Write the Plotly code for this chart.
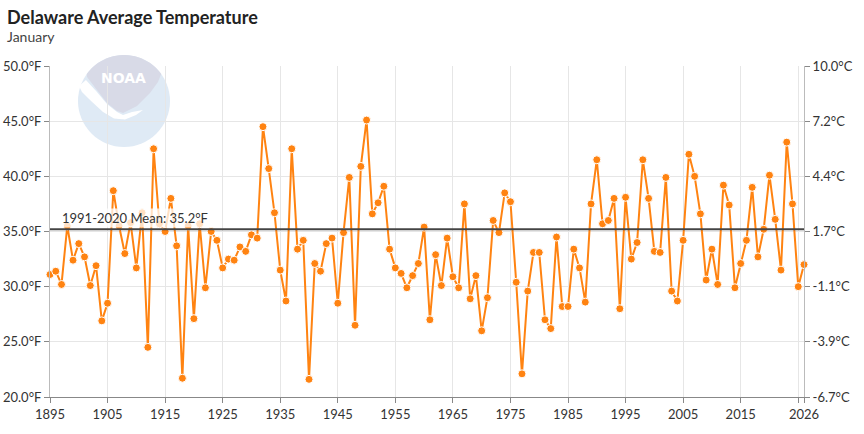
import math
import plotly.graph_objects as go

# January average temperature, Delaware (deg F), 1895-2026
years = list(range(1895, 2027))
jan_temp_f = [
    31.1, 31.4, 30.2, 35.5, 32.4, 33.9, 32.7, 30.1, 31.9, 26.9,
    28.5, 38.7, 35.5, 33.0, 35.8, 31.7, 36.7, 24.5, 42.5, 35.7,
    35.0, 38.0, 33.7, 21.7, 35.5, 27.1, 35.7, 29.9, 35.0, 34.2,
    31.7, 32.5, 32.4, 33.6, 33.2, 34.7, 34.4, 44.5, 40.7, 36.7,
    31.5, 28.7, 42.5, 33.4, 34.2, 21.6, 32.1, 31.4, 33.9, 34.4,
    28.5, 34.9, 39.9, 26.5, 40.9, 45.1, 36.6, 37.6, 39.1, 33.4,
    31.7, 31.2, 29.9, 31.0, 32.1, 35.4, 27.0, 32.9, 30.1, 34.4,
    30.9, 29.9, 37.5, 28.9, 31.0, 26.0, 29.0, 36.0, 34.9, 38.5,
    37.7, 30.4, 22.1, 29.6, 33.1, 33.1, 27.0, 26.2, 34.5, 28.2,
    28.2, 33.4, 31.7, 28.6, 37.5, 41.5, 35.7, 36.0, 38.0, 28.0,
    38.1, 32.5, 34.0, 41.5, 38.0, 33.2, 33.1, 39.9, 29.6, 28.7,
    34.2, 42.0, 40.0, 36.6, 30.6, 33.4, 30.2, 39.2, 37.4, 29.9,
    32.1, 34.2, 39.0, 32.7, 35.2, 40.1, 36.1, 31.5, 43.1, 37.5,
    30.0, 32.0,
]
mean_1991_2020 = 35.2

f_ticks = [20, 25, 30, 35, 40, 45, 50]
x_ticks = [1895, 1905, 1915, 1925, 1935, 1945, 1955, 1965, 1975, 1985,
           1995, 2005, 2015, 2025, 2026]
x_labels = [str(y) for y in x_ticks[:-2]] + ["", "2026"]

def to_c(f):
    return (f - 32) / 1.8

FONT = "Lato, 'Open Sans', sans-serif"
ORANGE = "#ff8311"

fig = go.Figure()

fig.add_trace(go.Scatter(
    x=years, y=jan_temp_f, mode="lines+markers",
    line=dict(color=ORANGE, width=2),
    marker=dict(color=ORANGE, size=8, line=dict(color="white", width=1)),
    cliponaxis=False, showlegend=False,
))
# invisible copy on the Celsius axis so the right axis is drawn
fig.add_trace(go.Scatter(
    x=years, y=[to_c(v) for v in jan_temp_f], yaxis="y2",
    mode="lines", line=dict(width=0), opacity=0,
    hoverinfo="skip", showlegend=False,
))

# 1991-2020 mean line
fig.add_hline(y=mean_1991_2020, line=dict(color="#444", width=2))

# faded NOAA logo (pixel coords -> paper)
L, R, T, B = 50, 804, 66, 397
def px(x):
    return (x - L) / (R - L)
def py(y):
    return (B - y) / (B - T)
def path(pts):
    return "M " + " L ".join(f"{px(a):.4f},{py(b):.4f}" for a, b in pts) + " Z"

cx, cy, r = 124, 101, 46
fig.add_shape(type="circle", xref="paper", yref="paper",
              x0=px(cx - r), x1=px(cx + r), y0=py(cy + r), y1=py(cy - r),
              fillcolor="#dfeaf5", line_width=0, layer="below")
cap = [(cx + r * math.cos(math.radians(a)), cy - r * math.sin(math.radians(a)))
       for a in range(36, 148, 4)]
cap += [(87, 77), (97, 90), (107, 103), (117, 111), (123, 113), (137, 106),
        (150, 93), (158, 82)]
fig.add_shape(type="path", xref="paper", yref="paper", path=path(cap),
              fillcolor="#d8dae7", line_width=0, layer="below")
bird = [(79, 86), (86, 80), (97, 92), (107, 104), (117, 112), (123, 115),
        (132, 112), (143, 110), (136, 115), (125, 119.5), (114, 118.5),
        (103, 112), (91, 101), (82, 92)]
fig.add_shape(type="path", xref="paper", yref="paper", path=path(bird),
              fillcolor="white", line_width=0, layer="below")
fig.add_annotation(x=px(123.5), y=py(78.5), xref="paper", yref="paper", text="<b>NOAA</b>",
                   showarrow=False, xanchor="center", yanchor="middle",
                   font=dict(family="DejaVu Sans", size=14, color="white"))

fig.add_annotation(
    x=px(60), xref="paper", y=mean_1991_2020, yref="y",
    text=f"1991-2020 Mean: {mean_1991_2020}°F", showarrow=False,
    xanchor="left", yanchor="bottom", yshift=1,
    bgcolor="rgba(255,255,255,0.75)", font=dict(family=FONT, size=13, color="#333"),
)

# title / subtitle
fig.add_annotation(x=px(5), y=py(17), xref="paper", yref="paper", xanchor="left",
                   yanchor="middle", showarrow=False, text="<b>Delaware Average Temperature</b>",
                   font=dict(family=FONT, size=18, color="#222"))
fig.add_annotation(x=px(5), y=py(37), xref="paper", yref="paper", xanchor="left",
                   yanchor="middle", showarrow=False, text="January",
                   font=dict(family=FONT, size=14, color="#444"))

axis_font = dict(family=FONT, size=13, color="#333")
fig.update_layout(
    width=864, height=434,
    margin=dict(l=L, r=864 - R, t=T, b=434 - B, autoexpand=False),
    paper_bgcolor="white", plot_bgcolor="white",
    font=axis_font,
    xaxis=dict(range=[1895, 2026], tickvals=x_ticks, ticktext=x_labels,
               showgrid=True, gridcolor="#e6e6e6", gridwidth=1, automargin=False,
               showline=True, linecolor="#888", linewidth=1,
               ticks="outside", ticklen=5, tickcolor="#888", zeroline=False),
    yaxis=dict(range=[20, 50], tickvals=f_ticks, ticktext=[f"{v:.1f}°F" for v in f_ticks],
               showgrid=True, gridcolor="#e6e6e6", gridwidth=1, automargin=False,
               showline=True, linecolor="#bbb", linewidth=1,
               ticks="outside", ticklen=5, tickcolor="#888", zeroline=False),
    yaxis2=dict(overlaying="y", side="right", range=[to_c(20), to_c(50)],
                tickvals=[to_c(v) for v in f_ticks],
                ticktext=[f"{to_c(v):.1f}°C" for v in f_ticks], automargin=False,
                showgrid=False, showline=True, linecolor="#bbb", linewidth=1,
                ticks="outside", ticklen=5, tickcolor="#888", zeroline=False),
)

fig.write_html("out.html", config={"displayModeBar": False},
               post_script="document.body.style.margin='0';")
